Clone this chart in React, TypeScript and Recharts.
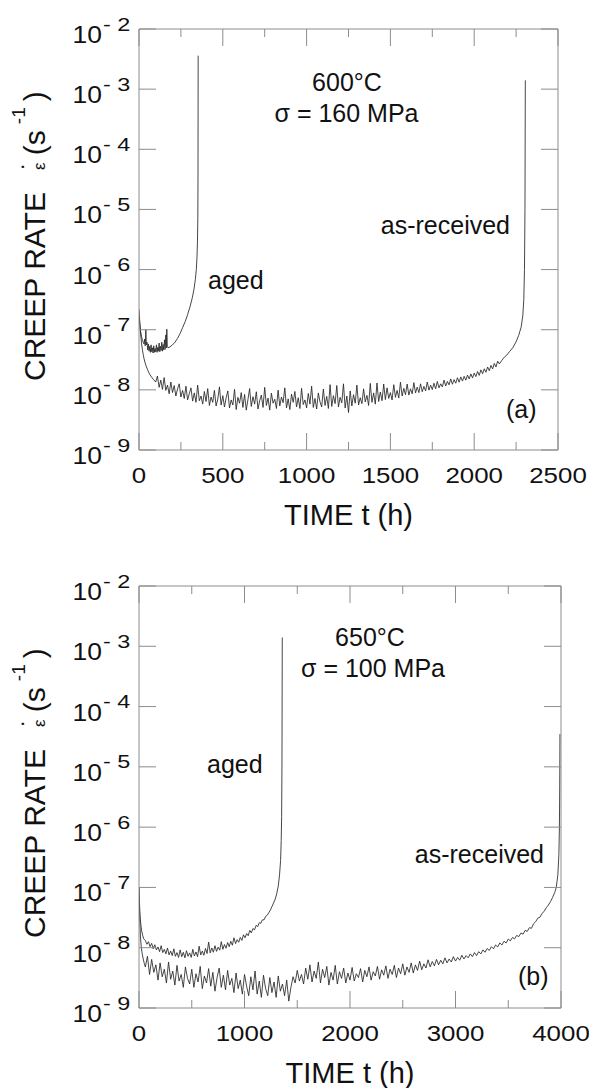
import React from 'react';
import { LineChart, Line, XAxis, YAxis } from 'recharts';

const FONT = '"Liberation Sans", Arial, Helvetica, sans-serif';
const AXIS = '#8c8c8c';
const INK = '#111111';
const CURVE = '#262626';

// ---------- axes ----------
const rateTicks = [1e-9, 1e-8, 1e-7, 1e-6, 1e-5, 1e-4, 1e-3, 1e-2];
const timeTicksA = [0, 250, 500, 750, 1000, 1250, 1500, 1750, 2000, 2250, 2500];
const timeLabelsA = [0, 500, 1000, 1500, 2000, 2500];
const timeTicksB = [0, 500, 1000, 1500, 2000, 2500, 3000, 3500, 4000];
const timeLabelsB = [0, 1000, 2000, 3000, 4000];

// ---------- data: [time t (h), creep rate in units of 1e-9 s^-1] ----------
// (a) 600 C, 160 MPa — aged
const agedA: [number, number][] = [
  [0, 170], [3, 140], [6, 115], [10, 92], [15, 78], [20, 68], [25, 62], [30, 58], [34, 70], [37, 54],
  [41, 100], [44, 56], [48, 62], [52, 46], [56, 58], [60, 44], [64, 53], [68, 42], [72, 56], [76, 43],
  [80, 50], [84, 41], [88, 54], [92, 42], [96, 49], [100, 43], [104, 56], [108, 42], [112, 51], [116, 44],
  [120, 60], [124, 43], [128, 53], [132, 45], [136, 62], [140, 44], [144, 57], [148, 46], [152, 68], [156, 47],
  [160, 82], [163, 50], [166, 102], [169, 52], [173, 50], [185, 52], [200, 56], [215, 62], [230, 72], [245, 86],
  [260, 108], [275, 135], [290, 178], [305, 245], [318, 340], [328, 470], [336, 680], [342, 1000], [346, 1600],
  [349, 3000], [351, 7000], [352, 30000], [353, 3600000],
];

// (a) 600 C, 160 MPa — as-received
const asRecA: [number, number][] = [
  [0, 220], [3, 160], [6, 115], [10, 82], [15, 60], [20, 47], [25, 39], [30, 33], [40, 26], [50, 22],
  [60, 19], [70, 17], [85, 15],
  [100, 13.5], [110, 17], [120, 11], [130, 14.5], [140, 10.2], [150, 16], [160, 9.8], [170, 12], [180, 8.6], [190, 13.5],
  [200, 9], [210, 11.8], [220, 7.9], [230, 10.4], [240, 12.6], [250, 7.6], [260, 9.8], [270, 7.2], [280, 11.5], [290, 6.8],
  [300, 8.6], [310, 10.8], [320, 6.5], [330, 8.9], [340, 6.2], [350, 12], [360, 6.6], [370, 7.9], [380, 5.8], [390, 9.4],
  [400, 6.4], [410, 10.5], [420, 5.5], [430, 7.6], [440, 6.2], [450, 9.8], [460, 5.4], [470, 7], [480, 11.2], [490, 5.6],
  [500, 8], [510, 5.2], [520, 7.4], [530, 9.6], [540, 5], [550, 6.8], [560, 5.6], [570, 10.2], [580, 4.7], [590, 7.5],
  [600, 6], [610, 9], [620, 5.1], [630, 8.4], [640, 4.6], [650, 6.9], [660, 10.5], [670, 5.3], [680, 7.7], [690, 5.8],
  [700, 9.3], [710, 4.8], [720, 6.6], [730, 8.2], [740, 5.1], [750, 11], [760, 5.5], [770, 7.3], [780, 4.6], [790, 8.8],
  [800, 6], [810, 7], [820, 4.9], [830, 9.9], [840, 5.4], [850, 7.6], [860, 6.1], [870, 10.8], [880, 5], [890, 7.1],
  [900, 4.7], [910, 8.5], [920, 6.2], [930, 9.4], [940, 5.2], [950, 7.4], [960, 4.9], [970, 10.6], [980, 5.7], [990, 6.8],
  [1000, 5], [1010, 8.7], [1020, 5.8], [1030, 11.5], [1040, 5.1], [1050, 7.2], [1060, 4.8], [1070, 8.9], [1080, 6.3], [1090, 5.2],
  [1100, 10.3], [1110, 5.5], [1120, 7.8], [1130, 4.9], [1140, 12.2], [1150, 5.3], [1160, 8], [1170, 5.9], [1180, 11.8], [1190, 5.2],
  [1200, 7.5], [1210, 6.1], [1220, 12.6], [1230, 5], [1240, 7.9], [1250, 4.2], [1260, 9.6], [1270, 5.4], [1280, 8.3], [1290, 6],
  [1300, 12], [1310, 5.6], [1320, 7.4], [1330, 5.9], [1340, 10.4], [1350, 6.3], [1360, 8.1], [1370, 5.5], [1380, 12.8], [1390, 6.2],
  [1400, 8.9], [1410, 5.8], [1420, 13], [1430, 6.4], [1440, 9.2], [1450, 6.6], [1460, 12.5], [1470, 6.9], [1480, 10.8], [1490, 7.2],
  [1500, 9], [1510, 6.8], [1520, 12.2], [1530, 7.5], [1540, 9.8], [1550, 7.3], [1560, 13.4], [1570, 7.9], [1580, 10.6], [1590, 8.3],
  [1600, 12.5], [1610, 8.2], [1620, 10.4], [1630, 8.6], [1640, 13.2], [1650, 8.9], [1660, 11.1], [1670, 9], [1680, 12.6], [1690, 9.3],
  [1700, 11.4], [1710, 9.6], [1720, 13.5], [1730, 9.9], [1740, 12], [1750, 10.1], [1760, 12.9], [1770, 10.4], [1780, 13.8], [1790, 10.8],
  [1800, 12.6], [1810, 11.2], [1820, 14.5], [1830, 11.6], [1840, 13.8], [1850, 12.1], [1860, 15.2], [1870, 12.4], [1880, 14.8], [1890, 12.9],
  [1900, 15.9], [1910, 13.4], [1920, 16.4], [1930, 14], [1940, 16.8], [1950, 14.5], [1960, 17.6], [1970, 15.2], [1980, 18.4], [1990, 15.8],
  [2000, 19], [2010, 16.6], [2020, 20.2], [2030, 17.4], [2040, 21.5], [2050, 18.5], [2060, 22.4], [2070, 19.6], [2080, 24], [2090, 20.8],
  [2100, 25.5], [2110, 22.3], [2120, 27.5], [2130, 24], [2140, 30], [2150, 27],
  [2165, 31], [2180, 35], [2195, 38], [2210, 43], [2230, 50], [2250, 63], [2265, 80], [2280, 110], [2290, 170],
  [2296, 320], [2300, 1000], [2303, 10000], [2305, 1400000],
];

// (b) 650 C, 100 MPa — aged
const agedB: [number, number][] = [
  [0, 100], [4, 60], [8, 40], [12, 30], [18, 24], [25, 19], [35, 16], [45, 14], [55, 13.5],
  [60, 13.2], [75, 11.4], [90, 12.6], [105, 10.4], [120, 11.8], [135, 9.6], [150, 11.2], [165, 9.2], [180, 10.3], [195, 8.6],
  [210, 10.8], [225, 8.3], [240, 9.4], [255, 7.9], [270, 9.9], [285, 7.6], [300, 8.8], [315, 7.4], [330, 9.6], [345, 7.2],
  [360, 8.3], [375, 6.9], [390, 9.2], [405, 7.1], [420, 8.4], [435, 6.8], [450, 8.9], [465, 7.2], [480, 8.2], [495, 6.9],
  [510, 9.4], [525, 7.3], [540, 8.5], [555, 7.1], [570, 10.6], [585, 7.6], [600, 8.8], [615, 7.5], [630, 9.7], [645, 8],
  [660, 12.4], [675, 8.2], [690, 9.9], [705, 8.4], [720, 10.8], [735, 8.7], [750, 10.2], [765, 9.1], [780, 12.6], [795, 9.4],
  [810, 11.3], [825, 9.8], [840, 12.2], [855, 10.4], [870, 12.8], [885, 11], [900, 14.6], [915, 11.7], [930, 13.6], [945, 12.3],
  [960, 14.8], [975, 13.2], [990, 16.4], [1005, 14.6], [1020, 17.2], [1035, 15.8], [1050, 19.4], [1065, 17.6], [1080, 20.8], [1095, 19.8],
  [1110, 23.5], [1125, 22.4], [1140, 26], [1155, 25.5], [1170, 29], [1185, 29], [1200, 33], [1215, 34.5], [1230, 38], [1245, 42],
  [1260, 48], [1275, 55], [1290, 63], [1305, 78], [1320, 105], [1332, 160], [1342, 280], [1348, 600], [1352, 1500],
  [1355, 10000], [1358, 1400000],
];

// (b) 650 C, 100 MPa — as-received
const asRecB: [number, number][] = [
  [0, 100], [3, 60], [6, 35], [10, 22], [15, 14], [22, 10], [30, 8], [40, 6.5], [50, 5.5], [60, 4.8],
  [80, 7.2], [100, 3.6], [120, 6.4], [140, 3.9], [160, 5.2], [180, 2.9], [200, 5.6], [220, 3.3], [240, 4.4], [260, 2.6],
  [280, 5.8], [300, 3], [320, 4.1], [340, 2.4], [360, 5.1], [380, 2.8], [400, 3.6], [420, 2.2], [440, 4.8], [460, 3.1],
  [480, 2.5], [500, 4.4], [520, 2.2], [540, 3.7], [560, 2.7], [580, 4.9], [600, 2.1], [620, 3.4], [640, 2.6], [660, 4.5],
  [680, 2.3], [700, 3.9], [720, 1.9], [740, 3.2], [760, 4.6], [780, 2.2], [800, 3.5], [820, 2], [840, 4.2], [860, 2.4],
  [880, 3.1], [900, 1.8], [920, 3.8], [940, 2.1], [960, 2.9], [980, 1.7], [1000, 3.6], [1020, 2.3], [1040, 1.6], [1060, 3.3],
  [1080, 2], [1100, 4.1], [1120, 1.7], [1140, 2.8], [1160, 1.5], [1180, 3.5], [1200, 2.1], [1220, 1.6], [1240, 3.2], [1260, 1.8],
  [1280, 2.7], [1300, 1.5], [1320, 3.4], [1340, 1.9], [1360, 2.5], [1380, 1.6], [1400, 2.9], [1420, 1.3], [1440, 2.2], [1460, 3.3],
  [1480, 2.6], [1500, 4.2], [1520, 2.8], [1540, 3.6], [1560, 2.5], [1580, 4.6], [1600, 3], [1620, 5.2], [1640, 2.7], [1660, 4.1],
  [1680, 3.1], [1700, 5.8], [1720, 2.6], [1740, 4.4], [1760, 3.2], [1780, 4.9], [1800, 2.4], [1820, 3.9], [1840, 2.9], [1860, 5.1],
  [1880, 2.5], [1900, 4], [1920, 3.1], [1940, 4.6], [1960, 2.6], [1980, 3.8], [2000, 2.9], [2020, 4.7], [2040, 2.8], [2060, 3.7],
  [2080, 3.2], [2100, 4.5], [2120, 2.7], [2140, 4.2], [2160, 3.3], [2180, 4.8], [2200, 2.9], [2220, 4], [2240, 3.4], [2260, 4.9],
  [2280, 3], [2300, 4.3], [2320, 3.5], [2340, 5], [2360, 3.1], [2380, 4.4], [2400, 3.6], [2420, 5.1], [2440, 3.2], [2460, 4.6],
  [2480, 3.7], [2500, 5.4], [2520, 3.5], [2540, 4.8], [2560, 3.9], [2580, 5.6], [2600, 3.8], [2620, 5.2], [2640, 4.2], [2660, 6],
  [2680, 4.3], [2700, 5.4], [2720, 4.6], [2740, 6.3], [2760, 4.8], [2780, 5.9], [2800, 5], [2820, 6.4], [2840, 5.2], [2860, 6.2],
  [2880, 5.4], [2900, 6.8], [2920, 5.6], [2940, 6.5], [2960, 5.8], [2980, 7.1], [3000, 6], [3020, 6.9], [3040, 6.2], [3060, 7.5],
  [3080, 6.5], [3100, 7.4], [3120, 6.8], [3140, 7.9], [3160, 7.1], [3180, 8.3], [3200, 7.4], [3220, 8.6], [3240, 7.9], [3260, 9.2],
  [3280, 8.4], [3300, 9.7], [3320, 9], [3340, 10.4], [3360, 9.6], [3380, 11.1], [3400, 10.3], [3420, 12], [3440, 11.1], [3460, 12.8],
  [3480, 12], [3500, 13.9], [3520, 13], [3540, 14.8], [3560, 14], [3580, 16], [3600, 15.3], [3620, 17.5], [3640, 16.8], [3660, 19.4],
  [3680, 18.6], [3700, 21.5], [3720, 21], [3740, 25], [3760, 27], [3780, 31], [3800, 32], [3820, 37], [3840, 40], [3860, 46],
  [3880, 51], [3900, 58], [3920, 68], [3940, 82], [3955, 100], [3970, 160], [3980, 350], [3985, 1000], [3988, 5000], [3990, 35000],
];

const RATE_UNIT = 1e-9;
const toRows = (pts: [number, number][]) => pts.map(([t, r]) => ({ t, r: r * RATE_UNIT }));

// ---------- tick renderers ----------
const MAJOR = 17;
const MINOR = 8;

function LeftTick(props: any) {
  const { x, y, payload } = props;
  const exp = Math.round(Math.log10(payload.value));
  return (
    <g>
      <line x1={x} y1={y} x2={x + MAJOR} y2={y} stroke={AXIS} strokeWidth={1} />
      <text transform={`translate(${x - 37},${y + 14}) scale(1.15,1)`} textAnchor="end"
        fontSize={23} fontFamily={FONT} fill={INK}>10</text>
      <text transform={`translate(${x - 36},${y + 1.5}) scale(1.3,1)`} textAnchor="start"
        fontSize={18} fontFamily={FONT} fill={INK}>{`- ${Math.abs(exp)}`}</text>
    </g>
  );
}

function RightTick(props: any) {
  const { x, y } = props;
  return <line x1={x} y1={y} x2={x - MAJOR} y2={y} stroke={AXIS} strokeWidth={1} />;
}

function makeBottomTick(labels: number[]) {
  return function BottomTick(props: any) {
    const { x, y, payload } = props;
    const major = labels.includes(payload.value);
    return (
      <g>
        <line x1={x} y1={y} x2={x} y2={y - (major ? MAJOR : MINOR)} stroke={AXIS} strokeWidth={1} />
        {major && (
          <text transform={`translate(${x},${y + 33}) scale(1.15,1)`} textAnchor="middle"
            fontSize={22.5} fontFamily={FONT} fill={INK}>{payload.value}</text>
        )}
      </g>
    );
  };
}

function makeTopTick(labels: number[]) {
  return function TopTick(props: any) {
    const { x, y, payload } = props;
    const major = labels.includes(payload.value);
    return <line x1={x} y1={y} x2={x} y2={y + (major ? MAJOR : MINOR)} stroke={AXIS} strokeWidth={1} />;
  };
}

// ---------- titles & annotations ----------
function YTitle({ x, y }: { x: number; y: number }) {
  return (
    <text transform={`translate(${x},${y}) rotate(-90)`} fontFamily={FONT} fill={INK}>
      <tspan fontSize={30}>CREEP RATE</tspan>
      <tspan fontSize={17} dx={22}>ε</tspan>
      <tspan fontSize={22} dx={-8} dy={-16}>·</tspan>
      <tspan fontSize={30} dx={8} dy={16}>(s</tspan>
      <tspan fontSize={19} dx={6} dy={-20}>-1</tspan>
      <tspan fontSize={30} dx={6} dy={20}>)</tspan>
    </text>
  );
}

function Txt({ x, y, anchor = 'start', size = 25, children }: any) {
  return (
    <text x={x} y={y} textAnchor={anchor} fontSize={size} fontFamily={FONT} fill={INK}>{children}</text>
  );
}

function LabelsA() {
  return (
    <g>
      <YTitle x={45} y={381} />
      <Txt x={348.5} y={525} anchor="middle" size={29}>TIME t (h)</Txt>
      <Txt x={347} y={91} anchor="middle">600°C</Txt>
      <Txt x={346.5} y={122} anchor="middle">σ  = 160 MPa</Txt>
      <Txt x={208} y={289}>aged</Txt>
      <Txt x={510} y={234} anchor="end">as-received</Txt>
      <Txt x={506} y={418}>(a)</Txt>
    </g>
  );
}

function LabelsB() {
  return (
    <g>
      <YTitle x={45} y={408} />
      <Txt x={350} y={553} anchor="middle" size={29}>TIME t (h)</Txt>
      <Txt x={370} y={116} anchor="middle">650°C</Txt>
      <Txt x={373} y={147} anchor="middle">σ  = 100 MPa</Txt>
      <Txt x={207} y={243}>aged</Txt>
      <Txt x={544} y={333} anchor="end">as-received</Txt>
      <Txt x={518} y={455}>(b)</Txt>
    </g>
  );
}

// ---------- one panel ----------
function Panel(props: {
  width: number; height: number; margin: any; maxT: number; ticks: number[]; labels: number[];
  aged: [number, number][]; asRec: [number, number][]; Labels: any;
}) {
  const { width, height, margin, maxT, ticks, labels, aged, asRec, Labels } = props;
  const BottomTick = makeBottomTick(labels);
  const TopTick = makeTopTick(labels);
  return (
    <LineChart width={width} height={height} margin={margin}>
      <XAxis xAxisId="b" dataKey="t" type="number" domain={[0, maxT]} ticks={ticks} interval={0}
        orientation="bottom" height={60} allowDataOverflow
        axisLine={{ stroke: AXIS, strokeWidth: 1 }} tickLine={false} tickSize={0} tickMargin={0}
        tick={(p: any) => <BottomTick {...p} />} label={<Labels />} />
      <XAxis xAxisId="top" dataKey="t" type="number" domain={[0, maxT]} ticks={ticks} interval={0}
        orientation="top" height={1} allowDataOverflow
        axisLine={{ stroke: AXIS, strokeWidth: 1 }} tickLine={false} tickSize={0} tickMargin={0}
        tick={(p: any) => <TopTick {...p} />} />
      <YAxis yAxisId="l" type="number" scale="log" domain={[1e-9, 1e-2]} ticks={rateTicks} interval={0}
        width={80} allowDataOverflow axisLine={{ stroke: AXIS, strokeWidth: 1 }} tickLine={false}
        tickSize={0} tickMargin={0} tick={(p: any) => <LeftTick {...p} />} />
      <YAxis yAxisId="r" orientation="right" type="number" scale="log" domain={[1e-9, 1e-2]}
        ticks={rateTicks} interval={0} width={1} allowDataOverflow
        axisLine={{ stroke: AXIS, strokeWidth: 1 }} tickLine={false} tickSize={0} tickMargin={0}
        tick={(p: any) => <RightTick {...p} />} />
      <Line xAxisId="b" yAxisId="l" data={toRows(aged)} dataKey="r" type="linear" dot={false}
        stroke={CURVE} strokeWidth={0.85} isAnimationActive={false} />
      <Line xAxisId="b" yAxisId="l" data={toRows(asRec)} dataKey="r" type="linear" dot={false}
        stroke={CURVE} strokeWidth={0.85} isAnimationActive={false} />
      <Line xAxisId="top" yAxisId="r" data={toRows(aged)} dataKey="r" type="linear" dot={false}
        stroke="none" strokeWidth={0} isAnimationActive={false} />
    </LineChart>
  );
}

export default function App() {
  return (
    <div style={{ position: 'absolute', left: 0, top: 0, width: 589, height: 1088, background: '#fff' }}>
      <div style={{ position: 'absolute', left: 0, top: 0 }}>
        <Panel width={589} height={545} margin={{ top: 28, right: 30, bottom: 35, left: 59 }}
          maxT={2500} ticks={timeTicksA} labels={timeLabelsA} aged={agedA} asRec={asRecA} Labels={LabelsA} />
      </div>
      <div style={{ position: 'absolute', left: 0, top: 530 }}>
        <Panel width={589} height={558} margin={{ top: 55, right: 27, bottom: 20, left: 59 }}
          maxT={4000} ticks={timeTicksB} labels={timeLabelsB} aged={agedB} asRec={asRecB} Labels={LabelsB} />
      </div>
    </div>
  );
}
